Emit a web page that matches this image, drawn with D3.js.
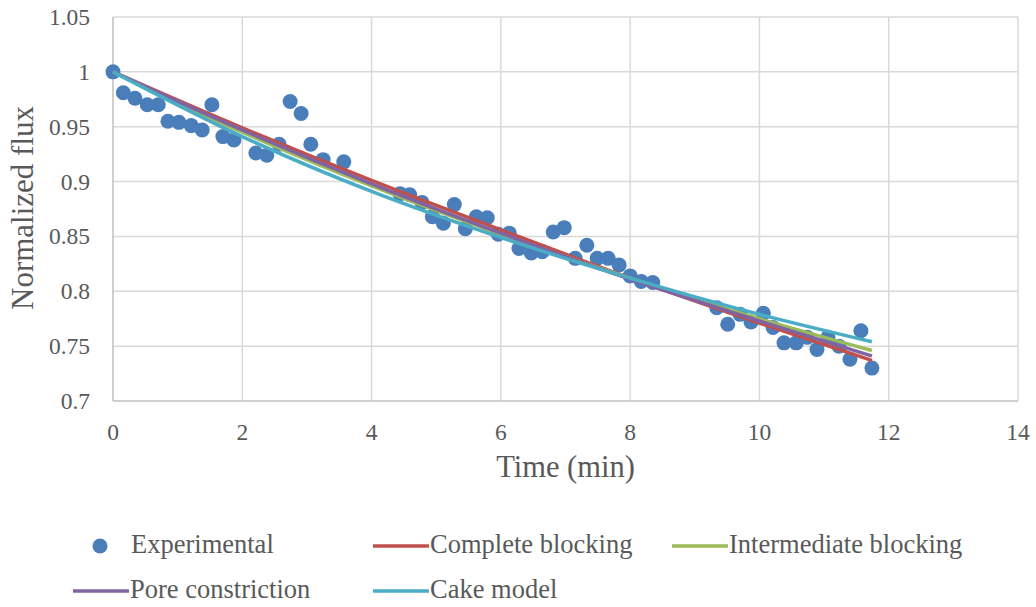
<!DOCTYPE html>
<html>
<head>
<meta charset="utf-8">
<script src="https://cdn.jsdelivr.net/npm/d3@7"></script>
<style>
  body { margin: 0; background: #fff; }
</style>
</head>
<body>
<svg width="1036" height="607"></svg>
<script>
// Experimental points (time in min, normalized flux)
const expTime = [0, 0.16, 0.34, 0.53, 0.70, 0.85, 1.02, 1.21, 1.38, 1.53, 1.70, 1.87,
  2.21, 2.38, 2.57, 2.74, 2.91, 3.06, 3.25, 3.57,
  4.44, 4.59, 4.78, 4.94, 5.11, 5.28, 5.45, 5.62, 5.79, 5.96, 6.13, 6.28, 6.47, 6.64,
  6.81, 6.98, 7.15, 7.33, 7.49, 7.66, 7.83, 8.00, 8.17, 8.35,
  9.34, 9.51, 9.70, 9.87, 10.06, 10.21, 10.38, 10.57, 10.74, 10.89, 11.06, 11.23, 11.40, 11.57, 11.74];
const expFlux = [1.000, 0.981, 0.976, 0.970, 0.970, 0.955, 0.954, 0.951, 0.947, 0.970, 0.941, 0.938,
  0.926, 0.924, 0.934, 0.973, 0.962, 0.934, 0.920, 0.918,
  0.889, 0.888, 0.881, 0.868, 0.862, 0.879, 0.857, 0.868, 0.867, 0.852, 0.853, 0.839, 0.835, 0.836,
  0.854, 0.858, 0.830, 0.842, 0.830, 0.830, 0.824, 0.814, 0.809, 0.808,
  0.785, 0.770, 0.779, 0.772, 0.780, 0.767, 0.753, 0.753, 0.758, 0.747, 0.758, 0.750, 0.738, 0.764, 0.730];

// Model curves
const modelTime = [0, 2, 4, 6, 8, 10, 11.74];
const completeFlux = [1.000, 0.949, 0.901, 0.856, 0.812, 0.771, 0.737];
const intermediateFlux = [1.000, 0.945, 0.896, 0.852, 0.812, 0.775, 0.746];
const poreFlux = [1.000, 0.947, 0.898, 0.853, 0.811, 0.773, 0.741];
const cakeFlux = [1.000, 0.941, 0.891, 0.849, 0.812, 0.779, 0.754];

const xTicks = [0, 2, 4, 6, 8, 10, 12, 14];
const yTicks = [0.7, 0.75, 0.8, 0.85, 0.9, 0.95, 1, 1.05];

const FONT = "'Liberation Serif', 'Times New Roman', serif";
const TEXT = "#595959";

const svg = d3.select("svg")
    .attr("font-family", FONT);

const x = d3.scaleLinear().domain([0, 14]).range([113, 1018]);
const y = d3.scaleLinear().domain([0.7, 1.05]).range([401, 17]);

// grid
svg.append("g")
    .selectAll("line")
    .data(yTicks)
    .enter()
    .append("line")
    .attr("x1", x(0)).attr("x2", x(14))
    .attr("y1", d => y(d)).attr("y2", d => y(d))
    .attr("stroke", d => d === 0.7 ? "#bfbfbf" : "#d9d9d9")
    .attr("stroke-width", 1.5);

svg.append("g")
    .selectAll("line")
    .data(xTicks)
    .enter()
    .append("line")
    .attr("x1", d => x(d)).attr("x2", d => x(d))
    .attr("y1", y(0.7)).attr("y2", y(1.05))
    .attr("stroke", d => d === 0 ? "#bfbfbf" : "#d9d9d9")
    .attr("stroke-width", 1.5);

// tick labels
svg.append("g")
    .attr("fill", TEXT)
    .selectAll("text")
    .data(yTicks)
    .enter()
    .append("text")
    .attr("x", 90)
    .attr("y", d => y(d) + 8)
    .attr("text-anchor", "end")
    .attr("font-size", 23.5)
    .text(d => +d.toFixed(2));

svg.append("g")
    .attr("fill", TEXT)
    .selectAll("text")
    .data(xTicks)
    .enter()
    .append("text")
    .attr("x", d => x(d))
    .attr("y", 440)
    .attr("text-anchor", "middle")
    .attr("font-size", 23.5)
    .text(d => d);

// axis titles
svg.append("text")
    .attr("x", x(7))
    .attr("y", 477)
    .attr("text-anchor", "middle")
    .attr("font-size", 30.5)
    .attr("fill", TEXT)
    .text("Time (min)");

svg.append("text")
    .attr("transform", "translate(33," + 208 + ") rotate(-90)")
    .attr("text-anchor", "middle")
    .attr("font-size", 31)
    .attr("fill", TEXT)
    .text("Normalized flux");

// experimental dots
const expData = expTime.map((t, i) => ({ t: t, v: expFlux[i] }));
svg.append("g")
    .selectAll("circle")
    .data(expData)
    .enter()
    .append("circle")
    .attr("cx", d => x(d.t))
    .attr("cy", d => y(d.v))
    .attr("r", 7.5)
    .attr("fill", "#4a7ebb");

// model lines
const models = [
    { name: "Complete blocking", values: completeFlux, color: "#c0504d" },
    { name: "Intermediate blocking", values: intermediateFlux, color: "#9bbb59" },
    { name: "Pore constriction", values: poreFlux, color: "#8064a2" },
    { name: "Cake model", values: cakeFlux, color: "#4bacc6" }
];

const line = d3.line()
    .x((d, i) => x(modelTime[i]))
    .y(d => y(d))
    .curve(d3.curveMonotoneX);

models.forEach(m => {
    svg.append("path")
        .attr("d", line(m.values))
        .attr("fill", "none")
        .attr("stroke", m.color)
        .attr("stroke-width", 3.5);
});

// legend
const legend = svg.append("g").attr("font-size", 26.5).attr("fill", TEXT);

legend.append("circle")
    .attr("cx", 100).attr("cy", 546).attr("r", 7.5)
    .attr("fill", "#4a7ebb");
legend.append("text").attr("x", 131).attr("y", 553).text("Experimental");

const legendPos = [
    { x1: 373, y: 546 },
    { x1: 672, y: 546 },
    { x1: 73, y: 591 },
    { x1: 373, y: 591 }
];

models.forEach((m, i) => {
    const p = legendPos[i];
    legend.append("line")
        .attr("x1", p.x1).attr("x2", p.x1 + 56)
        .attr("y1", p.y).attr("y2", p.y)
        .attr("stroke", m.color)
        .attr("stroke-width", 3.5);
    legend.append("text")
        .attr("x", p.x1 + 57)
        .attr("y", p.y + 7)
        .text(m.name);
});
</script>
</body>
</html>
